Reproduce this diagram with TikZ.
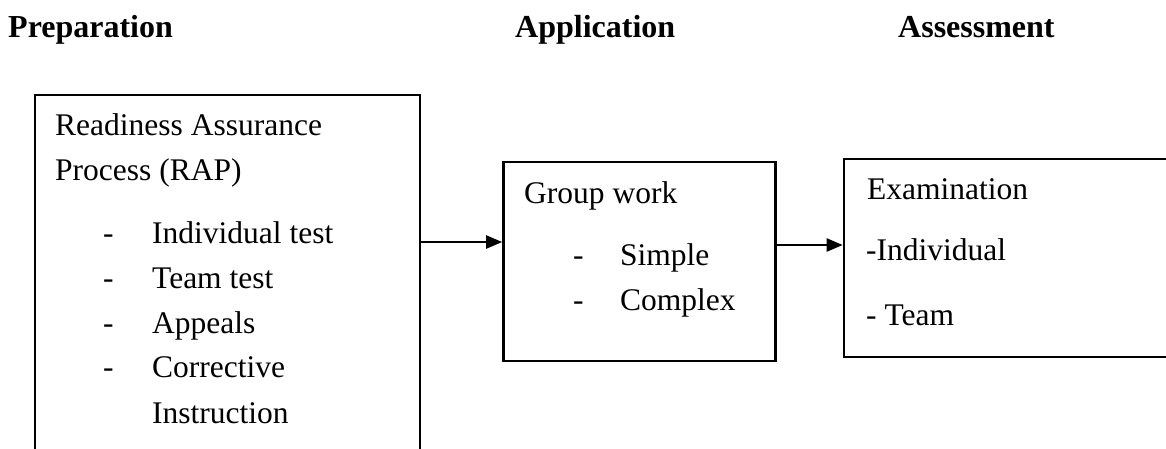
\documentclass[tikz,border=0pt]{standalone}
\usepackage{fontspec}
\setmainfont{Liberation Serif}
\usetikzlibrary{arrows.meta}
\begin{document}
\begin{tikzpicture}[x=1pt,y=-1pt,
  box/.style={draw,line width=2.6pt,inner sep=0pt,minimum width=#1},
  txt/.style={anchor=base west,inner sep=0pt,font=\fontsize{31.5}{36}\selectfont},
  head/.style={anchor=base west,inner sep=0pt,font=\fontsize{32}{36}\selectfont\bfseries},
  flow/.style={line width=2.2pt,-{Triangle[length=16pt,width=13pt]}}]
\useasboundingbox (0,0) rectangle (1166,448);
\clip (0,0) rectangle (1166,448);

% column headings
\node[head] (h1) at (8,37) {Preparation};
\node[head] (h2) at (515,37) {Application};
\node[head] (h3) at (898,37) {Assessment};

% boxes
\node[box=385pt,minimum height=385pt] (rap) at (227.5,287.5) {};
\node[box=272pt,minimum height=199pt] (grp) at (639.5,261.5) {};
\node[box=370pt,minimum height=198pt] (exa) at (1029,258) {};

% preparation text
\node[txt] (r1) at (55,135) {Readiness Assurance};
\node[txt] (r2) at (55,180) {Process (RAP)};
\node[txt] (d1) at (103,243) {-};
\node[txt] (t1) at (152,243) {Individual test};
\node[txt] (d2) at (103,288) {-};
\node[txt] (t2) at (152,288) {Team test};
\node[txt] (d3) at (103,333) {-};
\node[txt] (t3) at (152,333) {Appeals};
\node[txt] (d4) at (103,377) {-};
\node[txt] (t4) at (152,377) {Corrective};
\node[txt] (t5) at (152,423) {Instruction};

% application text
\node[txt] (g1) at (524,203) {Group work};
\node[txt] (gd1) at (573,265) {-};
\node[txt] (g2) at (620,265) {Simple};
\node[txt] (gd2) at (573,310) {-};
\node[txt] (g3) at (620,310) {Complex};

% assessment text
\node[txt] (e1) at (867,199) {Examination};
\node[txt] (e2) at (866,260) {-Individual};
\node[txt] (e3) at (866,325) {- Team};

% connectors
\coordinate (y1) at (0,242);
\coordinate (y2) at (0,245);
\draw[flow] (rap.east |- y1) -- (grp.west |- y1);
\draw[flow] (grp.east |- y2) -- (exa.west |- y2);
\end{tikzpicture}
\end{document}
